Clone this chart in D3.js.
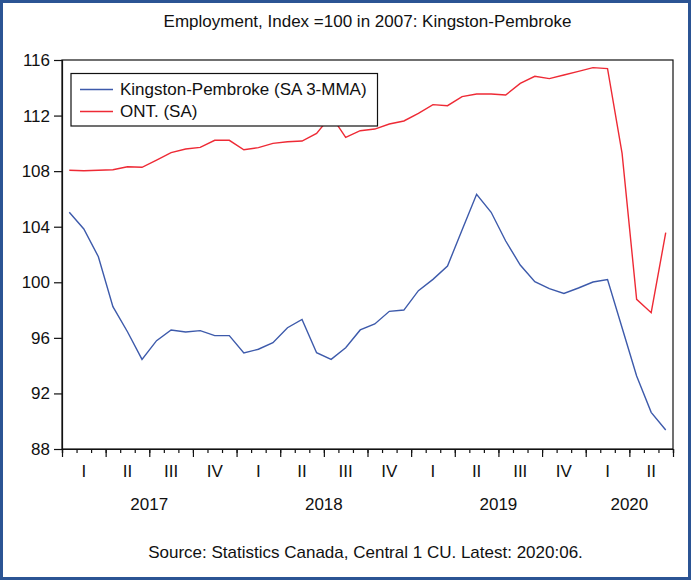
<!DOCTYPE html>
<html>
<head>
<meta charset="utf-8">
<script src="https://cdn.jsdelivr.net/npm/d3@7"></script>
<style>
  html, body { margin: 0; padding: 0; background: #fff; }
  svg { display: block; }
  text { font-family: "Liberation Sans", Arial, sans-serif; fill: #111; }
</style>
</head>
<body>
<svg id="chart" width="691" height="581"></svg>
<script>
// ---- Data (monthly, Jan 2017 – Jun 2020) ----
const kingston = [105.04, 103.84, 101.84, 98.25, 96.44, 94.45, 95.8, 96.57, 96.42, 96.52, 96.16, 96.16,
                  94.91, 95.18, 95.65, 96.73, 97.33, 94.93, 94.45, 95.29, 96.57, 97.0, 97.91, 98.0,
                  99.4, 100.21, 101.17, 103.76, 106.33, 105.04, 102.97, 101.24, 100.04, 99.54, 99.2, 99.59,
                  100.02, 100.19, 96.73, 93.25, 90.64, 89.37];
const ontario = [108.06, 108.03, 108.06, 108.1, 108.32, 108.28, 108.8, 109.33, 109.59, 109.71, 110.22, 110.22,
                 109.54, 109.69, 110.0, 110.12, 110.17, 110.72, 112.0, 110.43, 110.91, 111.03, 111.39, 111.61,
                 112.16, 112.79, 112.71, 113.36, 113.55, 113.55, 113.48, 114.32, 114.83, 114.66, 114.92, 115.18,
                 115.45, 115.38, 109.28, 98.77, 97.81, 103.57];
const quarterLabels = ["I","II","III","IV","I","II","III","IV","I","II","III","IV","I","II"];
const yearLabels = ["2017","2018","2019","2020"];
const yTicks = [88, 92, 96, 100, 104, 108, 112, 116];
const seriesNames = ["Kingston-Pembroke (SA 3-MMA)", "ONT. (SA)"];
const titleText = "Employment, Index =100 in 2007: Kingston-Pembroke";
const sourceText = "Source: Statistics Canada, Central 1 CU. Latest: 2020:06.";

// ---- Layout ----
const W = 691, H = 581;
const L = 62, R = 673, T = 60, B = 449;
const fs = 17;
const blue = "#3D5AAB", red = "#EE2A35";

const svg = d3.select("#chart");

// outer border
svg.append("rect").attr("x", 1.5).attr("y", 1.5).attr("width", W - 3).attr("height", H - 4)
  .attr("fill", "#fff").attr("stroke", "#2B5494").attr("stroke-width", 3);

const nMonths = kingston.length;
const x = d3.scaleLinear().domain([0, nMonths]).range([L, R]);
const y = d3.scaleLinear().domain([88, 116]).range([B, T]);

// title
svg.append("text").attr("x", (L + R) / 2).attr("y", 27).attr("text-anchor", "middle")
  .attr("font-size", fs).text(titleText);

// plot frame
svg.append("rect").attr("x", L).attr("y", T).attr("width", R - L).attr("height", B - T)
  .attr("fill", "none").attr("stroke", "#111").attr("stroke-width", 1.2);

// y axis
const yAxis = svg.append("g").attr("transform", `translate(${L},0)`)
  .call(d3.axisLeft(y).tickValues(yTicks).tickSize(8).tickPadding(4).tickFormat(d3.format("d")));
yAxis.select(".domain").attr("stroke", "#111").attr("stroke-width", 1.2);
yAxis.selectAll(".tick line").attr("stroke", "#111").attr("stroke-width", 1.2);
yAxis.selectAll(".tick text").attr("font-size", fs).attr("font-family", "Liberation Sans, Arial, sans-serif").attr("fill", "#111");

// x axis: minor month ticks and major quarter ticks
const monthBounds = d3.range(0, nMonths + 1);
const quarterBounds = d3.range(0, nMonths + 1, 3);
const xMinor = svg.append("g").attr("transform", `translate(0,${B})`)
  .call(d3.axisBottom(x).tickValues(monthBounds).tickSize(4).tickFormat(""));
xMinor.select(".domain").attr("stroke", "#111").attr("stroke-width", 1.2);
xMinor.selectAll(".tick line").attr("stroke", "#111").attr("stroke-width", 1.2);
const xMajor = svg.append("g").attr("transform", `translate(0,${B})`)
  .call(d3.axisBottom(x).tickValues(quarterBounds).tickSize(8).tickFormat(""));
xMajor.select(".domain").remove();
xMajor.selectAll(".tick line").attr("stroke", "#111").attr("stroke-width", 1.2);

// quarter labels
svg.append("g").selectAll("text").data(quarterLabels).join("text")
  .attr("x", (d, i) => x(i * 3 + 1.5)).attr("y", 477).attr("text-anchor", "middle")
  .attr("font-size", fs).text(d => d);

// year labels (centered on the months present in each year)
svg.append("g").selectAll("text").data(yearLabels).join("text")
  .attr("x", (d, i) => {
    const start = i * 12, end = Math.min(nMonths, (i + 1) * 12);
    return x((start + end) / 2);
  })
  .attr("y", 510).attr("text-anchor", "middle").attr("font-size", fs).text(d => d);

// lines
const line = d3.line().x((d, i) => x(i + 0.5)).y(d => y(d));
svg.append("path").datum(ontario).attr("d", line).attr("fill", "none")
  .attr("stroke", red).attr("stroke-width", 1.4).attr("stroke-linejoin", "miter");
svg.append("path").datum(kingston).attr("d", line).attr("fill", "none")
  .attr("stroke", blue).attr("stroke-width", 1.4).attr("stroke-linejoin", "miter");

// legend
const lg = svg.append("g");
lg.append("rect").attr("x", 71).attr("y", 73.5).attr("width", 306.5).attr("height", 52.5)
  .attr("fill", "#fff").attr("stroke", "#111").attr("stroke-width", 1.2);
const legendItems = [{name: seriesNames[0], color: blue, ly: 89.5}, {name: seriesNames[1], color: red, ly: 111.5}];
legendItems.forEach(it => {
  lg.append("line").attr("x1", 80).attr("x2", 113).attr("y1", it.ly).attr("y2", it.ly)
    .attr("stroke", it.color).attr("stroke-width", 1.4);
  lg.append("text").attr("x", 120).attr("y", it.ly + 5.5).attr("font-size", fs).text(it.name);
});

// source
svg.append("text").attr("x", 365.5).attr("y", 558).attr("text-anchor", "middle")
  .attr("font-size", fs).text(sourceText);
</script>
</body>
</html>
